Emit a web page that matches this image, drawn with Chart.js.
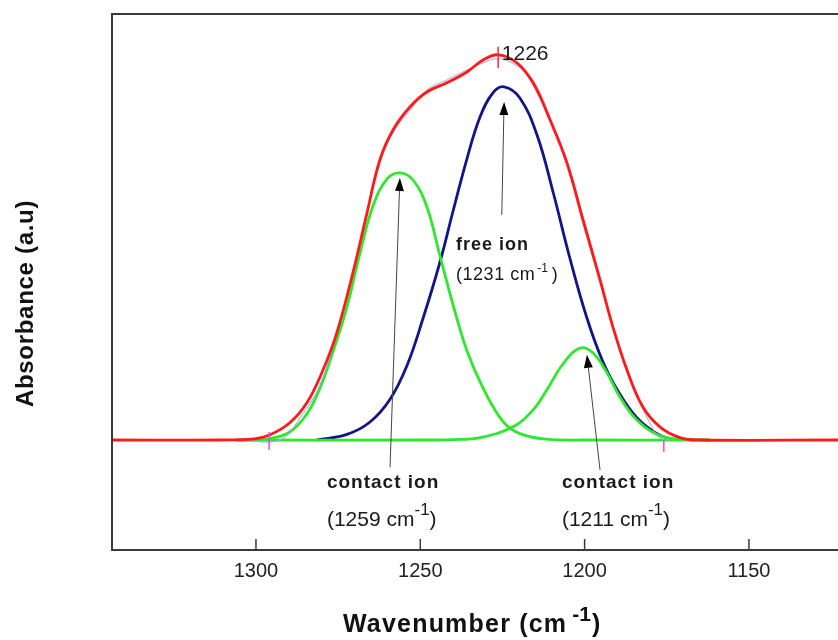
<!DOCTYPE html>
<html>
<head>
<meta charset="utf-8">
<title>Absorbance vs wavenumber</title>
<script src="https://cdn.jsdelivr.net/npm/chart.js@4.4.1/dist/chart.umd.min.js"></script>
<style>
  html, body { margin: 0; padding: 0; background: #fff; }
  #wrap { width: 838px; height: 640px; position: relative; }
</style>
</head>
<body>
<div id="wrap"><canvas id="irChart"></canvas></div>
<script>
// === DATA (wavenumber in cm-1, absorbance in arbitrary units) ===
const xTicks = [1300, 1250, 1200, 1150];

// measured spectrum (red)
const redWn  = [1343.8, 1310.9, 1300.5, 1295.7, 1289.7, 1284.5, 1279.6, 1275.4, 1270.5, 1266.2, 1262.3, 1258.3, 1253.1, 1248.0, 1241.9, 1235.8, 1230.9, 1226.3, 1220.6, 1215.7, 1210.5, 1205.4, 1200.5, 1195.3, 1191.4, 1187.1, 1182.3, 1177.1, 1171.0, 1165.0, 1122.9];
const redAbs = [0, 0, 0.3, 1.3, 4.3, 9.3, 17.5, 26.8, 41.8, 56.8, 70.0, 77.5, 83.3, 87.0, 89.3, 92.0, 95.0, 96.3, 94.3, 89.3, 80.0, 69.3, 55.0, 40.0, 28.3, 17.5, 8.3, 3.3, 0.6, 0, 0];

// cumulative fit (thin line)
const fitWn  = [1304.9, 1292.7, 1286.6, 1280.5, 1275.4, 1270.5, 1266.2, 1262.3, 1258.3, 1253.1, 1248.0, 1241.9, 1235.8, 1230.9, 1226.3, 1221.5, 1215.7, 1210.5, 1205.4, 1200.5, 1195.3, 1191.4, 1187.1, 1183.2, 1180.6, 1177.1, 1174.0];
const fitAbs = [0, 0, 5.5, 13.8, 26.8, 41.8, 56.8, 69.3, 76.8, 82.5, 87.5, 90.0, 92.5, 94.3, 95.3, 94.0, 90.0, 80.5, 70.0, 56.0, 40.5, 28.3, 17.0, 9.5, 5.0, 0.5, 0];

// contact ion band 1259 (green)
const contact1Wn  = [1306, 1300, 1295, 1289.7, 1284.5, 1280.5, 1276.6, 1272.3, 1268.4, 1264.4, 1260.1, 1256.2, 1252.2, 1248.0, 1244.0, 1240.1, 1235.8, 1230.9, 1224.8, 1219.7, 1211.5, 1200, 1162];
const contact1Abs = [0, 0, 0.5, 2.0, 6.5, 13.0, 22.0, 33.3, 46.5, 58.5, 65.3, 66.8, 65.0, 58.3, 46.0, 34.0, 22.3, 13.0, 4.6, 1.6, 0.2, 0, 0];

// contact ion band 1211 (green)
const contact2Wn  = [1306, 1250, 1240, 1231.8, 1221.8, 1215.7, 1211.5, 1206.6, 1201.4, 1197.5, 1193.2, 1189.3, 1184.1, 1178.0, 1171.9, 1162];
const contact2Abs = [0, 0, 0.1, 0.6, 3.3, 7.5, 12.5, 19.0, 23.0, 21.8, 16.8, 10.8, 5.0, 1.4, 0.2, 0];

// free ion band 1231 (navy)
const freeWn  = [1281.4, 1272.3, 1265.3, 1259.2, 1254.1, 1249.2, 1244.0, 1240.1, 1235.8, 1231.8, 1227.9, 1224.5, 1219.7, 1214.5, 1209.6, 1204.5, 1199.3, 1194.4, 1189.3, 1184.1, 1178.0, 1173.1];
const freeAbs = [0, 1.4, 4.5, 10.2, 18.5, 30.3, 44.5, 57.0, 70.3, 80.8, 86.8, 88.3, 85.5, 76.3, 62.0, 45.5, 30.5, 19.5, 11.5, 5.6, 1.6, 0];

// labels
const peakLabel = '1226';
const bandNames = ['contact ion', 'free ion', 'contact ion'];
const bandWaves = ['1259', '1231', '1211'];
const xTitle = 'Wavenumber (cm';
const yTitle = 'Absorbance (a.u)';

const F = '"Liberation Sans", Arial, Helvetica, sans-serif';

function pts(wn, ab) { return wn.map((w, i) => ({ x: w, y: ab[i] })); }

// === TEXT HELPERS ===
function drawRuns(ctx, x, y, runs) {
    let cx = x;
    runs.forEach(r => {
        ctx.font = r.font;
        ctx.letterSpacing = (r.ls || 0) + 'px';
        cx += (r.dx || 0);
        ctx.fillText(r.t, cx, y - (r.rise || 0));
        cx += ctx.measureText(r.t).width;
    });
    ctx.letterSpacing = '0px';
}

function arrow(ctx, x0, y0, x1, y1) {
    const a = Math.atan2(y1 - y0, x1 - x0), len = 13, half = 4.5;
    const bx = x1 - len * Math.cos(a), by = y1 - len * Math.sin(a);
    ctx.strokeStyle = '#444';
    ctx.lineWidth = 1;
    ctx.beginPath(); ctx.moveTo(x0, y0); ctx.lineTo(bx, by); ctx.stroke();
    ctx.fillStyle = '#000';
    ctx.beginPath();
    ctx.moveTo(x1, y1);
    ctx.lineTo(bx + half * Math.sin(a), by - half * Math.cos(a));
    ctx.lineTo(bx - half * Math.sin(a), by + half * Math.cos(a));
    ctx.closePath(); ctx.fill();
}

// === FRAME, MARKERS, ARROWS, NOTES ===
const decorPlugin = {
    id: 'decor',
    afterDraw(chart) {
        const ctx = chart.ctx, xs = chart.scales.x, ys = chart.scales.y, a = chart.chartArea;
        const X = v => xs.getPixelForValue(v), Y = v => ys.getPixelForValue(v);
        ctx.save();

        // frame (right side is cut off in the original)
        ctx.strokeStyle = '#3a3a3a';
        ctx.lineWidth = 2;
        ctx.beginPath();
        ctx.moveTo(a.right + 2, a.top); ctx.lineTo(a.left, a.top);
        ctx.lineTo(a.left, a.bottom); ctx.lineTo(a.right + 2, a.bottom);
        ctx.stroke();

        // inward tick marks
        ctx.lineWidth = 1.5;
        xTicks.forEach(t => {
            ctx.beginPath(); ctx.moveTo(X(t), a.bottom); ctx.lineTo(X(t), a.bottom - 11); ctx.stroke();
        });

        // baseline anchor markers + peak marker
        ctx.lineWidth = 1.5;
        ctx.strokeStyle = '#e64de6';
        [[1296.0, 2, -2.5], [1175.9, 0, -3]].forEach(m => {
            ctx.beginPath(); ctx.moveTo(X(m[0]), Y(m[1])); ctx.lineTo(X(m[0]), Y(m[2])); ctx.stroke();
        });
        ctx.strokeStyle = '#ff2a2a';
        ctx.beginPath(); ctx.moveTo(X(1226.3), Y(98.3)); ctx.lineTo(X(1226.3), Y(93)); ctx.stroke();

        // arrows
        arrow(ctx, X(1259.2), Y(-6.8), X(1256.2), Y(65.5));
        arrow(ctx, X(1225.2), Y(56.3), X(1224.5), Y(84.5));
        arrow(ctx, X(1195.3), Y(-7.5), X(1199.3), Y(21.3));

        // notes
        ctx.fillStyle = '#1a1a1a';
        ctx.textAlign = 'left';
        ctx.textBaseline = 'alphabetic';
        drawRuns(ctx, X(1225.2), Y(95), [{ t: peakLabel, font: '21px ' + F }]);

        drawRuns(ctx, X(1239.1), Y(47.5), [{ t: bandNames[1], font: 'bold 18px ' + F, ls: 1 }]);
        drawRuns(ctx, X(1239.1), Y(40), [
            { t: '(' + bandWaves[1] + ' cm', font: '18px ' + F, ls: 0.5 },
            { t: '-1', font: '12px ' + F, rise: 8, dx: 2 },
            { t: ')', font: '18px ' + F, dx: 4 }
        ]);

        [[bandNames[0], bandWaves[0], 1278.4], [bandNames[2], bandWaves[2], 1206.9]].forEach(n => {
            drawRuns(ctx, X(n[2]), Y(-11.9), [{ t: n[0], font: 'bold 19px ' + F, ls: 1 }]);
            drawRuns(ctx, X(n[2]), Y(-21.5), [
                { t: '(' + n[1] + ' cm', font: '21px ' + F },
                { t: '-1', font: '17px ' + F, rise: 11 },
                { t: ')', font: '21px ' + F }
            ]);
        });

        // axis titles
        ctx.fillStyle = '#111';
        drawRuns(ctx, 343, 632, [
            { t: xTitle, font: 'bold 25px ' + F, ls: 1.2 },
            { t: '-1', font: 'bold 21px ' + F, rise: 11, dx: 5 },
            { t: ')', font: 'bold 25px ' + F, dx: 1 }
        ]);

        ctx.translate(33, 303.5);
        ctx.rotate(-Math.PI / 2);
        ctx.textAlign = 'center';
        ctx.font = 'bold 24px ' + F;
        ctx.letterSpacing = '0.7px';
        ctx.fillText(yTitle, 0, 0);
        ctx.letterSpacing = '0px';

        ctx.restore();
    }
};

// === CHART ===
window.addEventListener('DOMContentLoaded', () => {
    const line = (label, wn, ab, color, width) => ({
        label: label,
        data: pts(wn, ab),
        borderColor: color,
        borderWidth: width,
        pointRadius: 0,
        fill: false,
        tension: 0.4
    });

    new Chart(document.getElementById('irChart').getContext('2d'), {
        type: 'line',
        data: {
            datasets: [
                line('measured', redWn, redAbs, '#ff1a1a', 2.8),
                line('fit', fitWn, fitAbs, '#9ea4e0', 1),
                line('contact ion 1259', contact1Wn, contact1Abs, '#2ee82e', 2.8),
                line('contact ion 1211', contact2Wn, contact2Abs, '#2ee82e', 2.8),
                line('free ion 1231', freeWn, freeAbs, '#141488', 2.8)
            ]
        },
        options: {
            responsive: true,
            maintainAspectRatio: false,
            animation: false,
            layout: { padding: { left: 112, top: 14, right: 0, bottom: 0 } },
            plugins: { legend: { display: false }, tooltip: { enabled: false } },
            scales: {
                x: {
                    type: 'linear',
                    reverse: true,
                    min: 1122.9,
                    max: 1343.8,
                    afterBuildTicks: s => { s.ticks = xTicks.map(v => ({ value: v })); },
                    afterFit: s => { s.height = 90; },
                    grid: { display: false, drawTicks: false },
                    border: { display: false },
                    ticks: {
                        padding: 9,
                        color: '#222',
                        font: { family: F, size: 20 },
                        maxRotation: 0,
                        callback: v => String(v)
                    }
                },
                y: { display: false, min: -27.5, max: 106.5 }
            }
        },
        plugins: [decorPlugin]
    });
});
</script>
</body>
</html>
